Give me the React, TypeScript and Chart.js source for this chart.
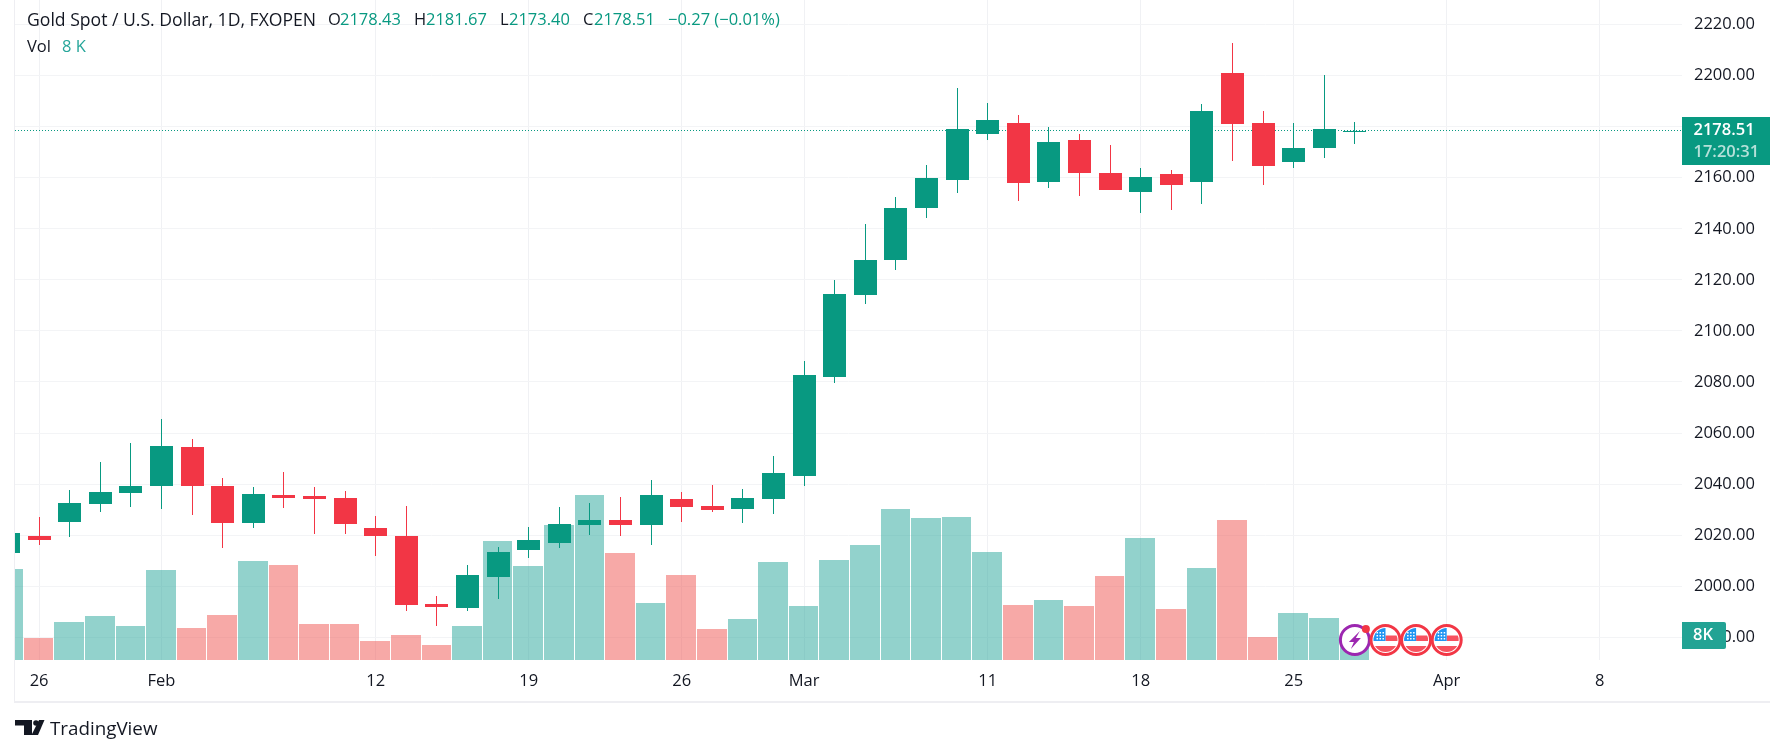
import { useEffect, useRef } from "react"
import { Chart, registerables } from "chart.js"

Chart.register(...registerables)

// daily sessions, weekdays only, first one sits behind the left edge
const dates = [
  "Jan 25", "Jan 26", "Jan 29", "Jan 30", "Jan 31", "Feb 1", "Feb 2", "Feb 5", "Feb 6", "Feb 7", "Feb 8", "Feb 9",
  "Feb 12", "Feb 13", "Feb 14", "Feb 15", "Feb 16", "Feb 19", "Feb 20", "Feb 21", "Feb 22", "Feb 23", "Feb 26",
  "Feb 27", "Feb 28", "Feb 29", "Mar 1", "Mar 4", "Mar 5", "Mar 6", "Mar 7", "Mar 8", "Mar 11", "Mar 12", "Mar 13",
  "Mar 14", "Mar 15", "Mar 18", "Mar 19", "Mar 20", "Mar 21", "Mar 22", "Mar 25", "Mar 26", "Mar 27",
]
const opens = [
  2013.2, 2019.8, 2025.3, 2032.4, 2036.7, 2039.4, 2054.7, 2039.4, 2024.9, 2035.9, 2035.5, 2034.7,
  2023.0, 2019.8, 1993.2, 1991.6, 2003.8, 2014.3, 2017.1, 2024.1, 2026.1, 2024.1, 2034.3,
  2031.6, 2030.4, 2034.3, 2043.3, 2081.8, 2114.0, 2127.7, 2148.1, 2159.0, 2177.1, 2181.4, 2158.3,
  2174.7, 2161.8, 2154.3, 2161.4, 2158.3, 2200.9, 2181.4, 2166.1, 2171.6, 2178.43,
]
const closes = [
  2021.0, 2018.3, 2032.7, 2037.1, 2039.4, 2055.1, 2039.4, 2024.9, 2036.3, 2034.7, 2034.3, 2024.5,
  2019.8, 1992.8, 1992.0, 2004.5, 2013.6, 2018.3, 2024.5, 2026.1, 2024.1, 2035.9, 2031.2,
  2030.0, 2034.7, 2044.5, 2082.7, 2114.4, 2127.7, 2148.1, 2159.8, 2179.0, 2182.5, 2157.9, 2173.9,
  2161.8, 2155.1, 2160.2, 2157.1, 2186.1, 2181.0, 2164.5, 2171.6, 2179.0, 2178.51,
]
const highs = [
  2021.0, 2027.3, 2037.8, 2048.8, 2056.2, 2065.6, 2057.8, 2042.5, 2039.0, 2044.9, 2039.0, 2037.4,
  2027.6, 2031.6, 1996.3, 2008.5, 2015.5, 2023.3, 2031.2, 2032.7, 2035.1, 2041.7, 2037.0,
  2039.8, 2038.2, 2051.1, 2088.1, 2119.9, 2141.8, 2152.4, 2164.9, 2195.1, 2189.2, 2184.5, 2179.8,
  2177.0, 2172.7, 2163.7, 2163.0, 2188.8, 2212.7, 2186.1, 2181.4, 2200.2, 2181.67,
]
const lows = [
  2013.2, 2016.3, 2019.4, 2029.2, 2031.2, 2030.4, 2028.0, 2015.1, 2023.0, 2030.8, 2020.6, 2020.6,
  2012.0, 1990.4, 1984.6, 1990.4, 1995.1, 2011.2, 2015.1, 2020.2, 2019.8, 2016.3, 2025.3,
  2029.2, 2024.9, 2028.4, 2039.4, 2079.7, 2110.5, 2123.8, 2144.2, 2153.9, 2174.7, 2150.8, 2155.9,
  2152.8, 2155.1, 2146.1, 2147.3, 2149.6, 2166.5, 2157.1, 2163.7, 2167.7, 2173.4,
]
// thousands
const volumes = [
  29.5, 7.1, 12.3, 14.3, 11.0, 29.2, 10.4, 14.6, 32.1, 30.8, 11.7, 11.7,
  6.2, 8.1, 4.9, 11.0, 38.6, 30.5, 43.8, 53.5, 34.7, 18.5, 27.6,
  10.1, 13.3, 31.8, 17.5, 32.4, 37.3, 49.0, 46.1, 46.4, 35.0, 17.8, 19.5,
  17.5, 27.2, 39.6, 16.5, 29.8, 45.4, 7.5, 15.2, 13.6, 8.0,
]
const lastPrice = 2178.51

const priceTicks = [1980, 2000, 2020, 2040, 2060, 2080, 2100, 2120, 2140, 2160, 2180, 2200, 2220]
const timeTicks = [0, 4, 11, 16, 21, 25, 31, 36, 41, 46, 51]
const timeLabels = ["26", "Feb", "12", "19", "26", "Mar", "11", "18", "25", "Apr", "8"]
const eventSlots = [43, 44, 45, 46]

const titleParts = [
  { text: "Gold Spot / U.S. Dollar, 1D, FXOPEN", x: 27, up: false },
  { text: "O", x: 328, up: false },
  { text: "2178.43", x: 340, up: true },
  { text: "H", x: 414, up: false },
  { text: "2181.67", x: 426, up: true },
  { text: "L", x: 500, up: false },
  { text: "2173.40", x: 509, up: true },
  { text: "C", x: 583, up: false },
  { text: "2178.51", x: 594, up: true },
  { text: "−0.27 (−0.01%)", x: 668, up: true },
]

const GREEN = "#089981"
const RED = "#f23645"
const INK = "#131722"
const FONT = '"Open Sans", sans-serif'
const X_MIN = -0.7876
const X_MAX = 53.69
const xs = dates.map((_, i) => i - 1)
const isUp = closes.map((c, i) => c >= opens[i])

function flag(ctx: CanvasRenderingContext2D, x: number, y: number) {
  ctx.save()
  ctx.beginPath()
  ctx.arc(x, y, 14.5, 0, Math.PI * 2)
  ctx.fillStyle = "#fff"
  ctx.fill()
  ctx.strokeStyle = RED
  ctx.lineWidth = 3
  ctx.stroke()
  ctx.beginPath()
  ctx.arc(x, y, 12, 0, Math.PI * 2)
  ctx.clip()
  ctx.fillStyle = "#f7525f"
  ctx.fillRect(x, y - 4.5, 14, 5.5)
  ctx.fillRect(x - 14, y + 6, 28, 8)
  ctx.fillStyle = "#2196f3"
  ctx.fillRect(x - 14, y - 14, 14, 15)
  ctx.fillStyle = "#fff"
  for (let r = 0; r < 3; r++) {
    for (let c = 0; c < 3; c++) {
      ctx.fillRect(x - 9 + c * 3, y - 8 + r * 3, 1.5, 1.5)
    }
  }
  ctx.restore()
}

function bolt(ctx: CanvasRenderingContext2D, x: number, y: number) {
  ctx.save()
  ctx.beginPath()
  ctx.arc(x, y, 14.5, 0, Math.PI * 2)
  ctx.fillStyle = "#fff"
  ctx.fill()
  ctx.strokeStyle = "#9c27b0"
  ctx.lineWidth = 3
  ctx.stroke()
  ctx.fillStyle = "#9c27b0"
  ctx.beginPath()
  ctx.moveTo(x + 5, y - 9)
  ctx.lineTo(x - 6, y + 2)
  ctx.lineTo(x - 1, y + 2)
  ctx.lineTo(x - 4, y + 9)
  ctx.lineTo(x + 6, y - 2)
  ctx.lineTo(x + 1, y - 2)
  ctx.closePath()
  ctx.fill()
  ctx.fillStyle = RED
  ctx.beginPath()
  ctx.arc(x + 11, y - 11, 4, 0, Math.PI * 2)
  ctx.fill()
  ctx.restore()
}

function logo(ctx: CanvasRenderingContext2D) {
  ctx.fillStyle = INK
  ctx.fillRect(15, 720, 17, 5.5)
  ctx.fillRect(24, 720, 8, 15)
  ctx.beginPath()
  ctx.arc(36, 723, 2.8, 0, Math.PI * 2)
  ctx.fill()
  ctx.beginPath()
  ctx.moveTo(39, 720)
  ctx.lineTo(44.5, 720)
  ctx.lineTo(38, 735)
  ctx.lineTo(31.5, 735)
  ctx.closePath()
  ctx.fill()
}

// bars land on whole pixels, like the real chart
const snapBars = {
  id: "snapBars",
  beforeDatasetsDraw(chart: any) {
    chart.getSortedVisibleDatasetMetas().forEach((meta: any) => {
      if (meta.type !== "bar") return
      meta.data.forEach((el: any) => {
        if (meta.yAxisID === "vol") {
          // one bar slot less a 1px gap
          const l = Math.round(el.x - 15.3)
          const r = Math.round(el.x + 15.3) - 1
          el.x = (l + r) / 2
          el.width = r - l
        } else {
          el.x = Math.floor(el.x) + 0.5
        }
        el.y = Math.round(el.y)
        el.base = Math.round(el.base)
        if (el.y === el.base) el.base = el.y + 1
      })
    })
  },
}

const overlay = {
  id: "overlay",
  afterDraw(chart: any) {
    const ctx: CanvasRenderingContext2D = chart.ctx
    const xScale = chart.scales.x
    const { left, right, bottom } = chart.chartArea
    ctx.save()

    // frame
    ctx.fillStyle = "#eeeef2"
    ctx.fillRect(left - 1, 0, 1, 703)
    ctx.fillRect(left - 1, 701, 1770 - left + 1, 2)

    // event badges
    eventSlots.forEach((slot, i) => {
      const x = xScale.getPixelForValue(slot)
      if (i === 0) bolt(ctx, x, bottom - 20)
      else flag(ctx, x, bottom - 20)
    })

    // legend
    ctx.textBaseline = "middle"
    ctx.textAlign = "left"
    titleParts.forEach((p, i) => {
      ctx.font = `${i === 0 ? 17.6 : 16.5}px ${FONT}`
      ctx.fillStyle = p.up ? GREEN : INK
      ctx.fillText(p.text, p.x, 20.5)
    })
    ctx.font = `16.5px ${FONT}`
    ctx.fillStyle = INK
    ctx.fillText("Vol", 27, 47)
    ctx.fillStyle = "#26a69a"
    ctx.fillText("8 K", 62, 47)

    // last price tag
    ctx.fillStyle = GREEN
    ctx.fillRect(right, 117, 88, 48)
    ctx.fillStyle = "#fff"
    ctx.font = `600 16.5px ${FONT}`
    ctx.fillText(lastPrice.toFixed(2), 1693.5, 130.5)
    ctx.fillStyle = "rgba(255,255,255,0.7)"
    ctx.font = `600 16.5px ${FONT}`
    ctx.fillText("17:20:31", 1693.5, 152)

    // volume tag
    ctx.fillStyle = "#22a394"
    ctx.beginPath()
    ctx.roundRect(right, 622, 44, 27, [0, 2, 2, 0])
    ctx.fill()
    ctx.fillStyle = "#fff"
    ctx.font = `600 16.5px ${FONT}`
    ctx.fillText("8K", 1693, 635.5)

    // footer
    logo(ctx)
    ctx.fillStyle = INK
    ctx.font = `18.8px ${FONT}`
    ctx.fillText("TradingView", 50, 730)
    ctx.restore()
  },
}

export default function App() {
  const chartRef = useRef<HTMLCanvasElement>(null)

  useEffect(() => {
    document.body.style.margin = "0"
    document.body.style.background = "#fff"
    if (!chartRef.current) return

    const chart = new Chart(chartRef.current, {
      type: "bar",
      data: {
        datasets: [
          {
            label: "Volume",
            yAxisID: "vol",
            data: xs.map((x, i) => ({ x, y: volumes[i] })),
            backgroundColor: isUp.map((u) => (u ? "rgba(38,166,154,0.5)" : "rgba(239,83,80,0.5)")),
            barThickness: 30,
            inflateAmount: 0,
            grouped: false,
            order: 4,
          },
          {
            type: "line",
            label: "Last",
            data: [
              { x: X_MIN, y: lastPrice },
              { x: X_MAX, y: lastPrice },
            ],
            borderColor: GREEN,
            borderWidth: 1,
            borderDash: [1, 2],
            pointRadius: 0,
            order: 3,
          },
          {
            label: "Wick",
            data: xs.map((x, i) => ({ x, y: [lows[i], highs[i]] })),
            backgroundColor: isUp.map((u) => (u ? GREEN : RED)),
            barThickness: 1,
            inflateAmount: 0,
            grouped: false,
            order: 2,
          },
          {
            label: "Body",
            data: xs.map((x, i) => ({ x, y: [opens[i], closes[i]] })),
            backgroundColor: isUp.map((u) => (u ? GREEN : RED)),
            barThickness: 23,
            inflateAmount: 0,
            grouped: false,
            order: 1,
          },
        ] as any,
      },
      options: {
        responsive: false,
        animation: false,
        devicePixelRatio: 1,
        layout: { padding: { left: 15 }, autoPadding: false },
        plugins: {
          legend: { display: false },
          tooltip: { enabled: false },
        },
        scales: {
          x: {
            type: "linear",
            offset: false,
            min: X_MIN,
            max: X_MAX,
            afterBuildTicks: (s: any) => {
              s.ticks = timeTicks.map((value) => ({ value }))
            },
            afterFit: (s: any) => {
              s.height = 95
              s.paddingLeft = 0
              s.paddingRight = 0
            },
            grid: { offset: false, color: "#f0f1f4", drawTicks: false },
            border: { display: false },
            ticks: {
              autoSkip: false,
              maxRotation: 0,
              padding: 11,
              color: INK,
              font: { family: FONT, size: 16.5 },
              callback: (v: any) => timeLabels[timeTicks.indexOf(v)] ?? "",
            },
          },
          y: {
            position: "right",
            min: 1971.1,
            max: 2229.63,
            afterBuildTicks: (s: any) => {
              s.ticks = priceTicks.map((value) => ({ value }))
            },
            afterFit: (s: any) => {
              s.width = 88
              s.paddingTop = 0
              s.paddingBottom = 0
            },
            grid: { color: "#f3f4f6", drawTicks: false },
            border: { display: false },
            ticks: {
              autoSkip: false,
              padding: 12,
              color: INK,
              font: { family: FONT, size: 16.5 },
              callback: (v: any) => Number(v).toFixed(2),
            },
          },
          vol: {
            display: false,
            position: "left",
            min: 0,
            max: 214,
          },
        },
      },
      plugins: [snapBars, overlay],
    })

    return () => {
      chart.destroy()
    }
  }, [])

  return <canvas ref={chartRef} width={1770} height={755} style={{ display: "block" }} />
}
